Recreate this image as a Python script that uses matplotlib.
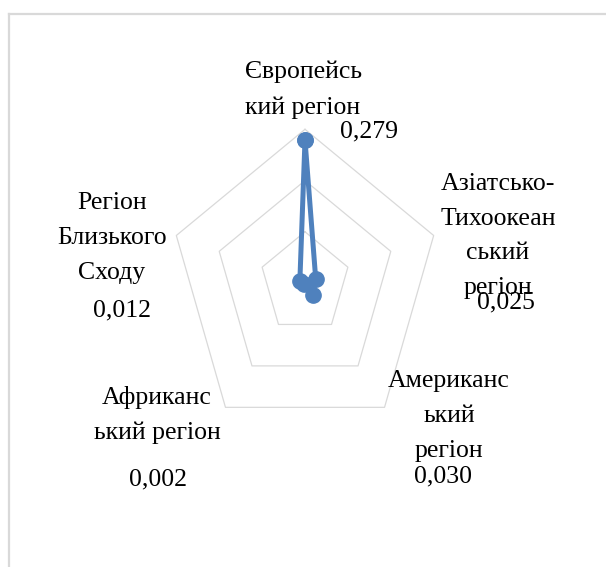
import numpy as np
import matplotlib
matplotlib.use("Agg")
import matplotlib.pyplot as plt

# ===============================
# Data
# ===============================
regions = ["Європейсь\nкий регіон",
           "Азіатсько-\nТихоокеан\nський\nрегіон",
           "Американс\nький\nрегіон",
           "Африканс\nький регіон",
           "Регіон\nБлизького\nСходу"]
values = [0.279, 0.025, 0.030, 0.002, 0.012]
ring_levels = [0.1, 0.2, 0.3]

# ===============================
# Layout (pixels of the 606x567 picture, from top-left)
# ===============================
W, H = 606, 567
cx, cy = 305, 283          # centre of the radar
rx, ry = 135.3, 153.7      # pixels for 0.3 horizontally / vertically (chart is stretched)
rmax = 0.3

blue = "#4f81bd"
grid = "#d9d9d9"
font = "Liberation Serif"

fig = plt.figure(figsize=(W / 100, H / 100), dpi=100)
ax = fig.add_axes([0, 0, 1, 1])
ax.set_xlim(-cx / rx * rmax, (W - cx) / rx * rmax)
ax.set_ylim(-(H - cy) / ry * rmax, cy / ry * rmax)
ax.axis("off")

n = len(values)
theta = np.pi / 2 - 2 * np.pi * np.arange(n) / n
t = np.append(theta, theta[0])

# pentagon grid rings
for lev in ring_levels:
    ax.plot(lev * np.cos(t), lev * np.sin(t), color=grid, lw=0.9, zorder=1)

# data series
v = np.array(values + values[:1])
ax.plot(v * np.cos(t), v * np.sin(t), color=blue, lw=3.6, marker="o",
        markersize=11, solid_joinstyle="round", zorder=3)

# ===============================
# Category and value labels
# ===============================
def px(x, y):
    return x / W, 1 - y / H

cat_pos = [(303, 90), (498, 236), (449, 416), (157, 415), (112, 238)]
val_pos = [(369, 131), (506, 302), (443, 476), (158, 479), (122, 310)]

for name, (x, y) in zip(regions, cat_pos):
    fig.text(*px(x, y), name, ha="center", va="center", family=font,
             fontsize=18.5, linespacing=1.76, color="black")

for val, (x, y) in zip(values, val_pos):
    fig.text(*px(x, y), f"{val:.3f}".replace(".", ","), ha="center", va="center",
             family=font, fontsize=18.5, color="black")

# chart area border (only left and top edges visible)
fig.add_artist(plt.Line2D([8.5 / W, 8.5 / W], [0, 1 - 13.5 / H],
                          transform=fig.transFigure, color=grid, lw=1.6))
fig.add_artist(plt.Line2D([8.5 / W, 1], [1 - 13.5 / H, 1 - 13.5 / H],
                          transform=fig.transFigure, color=grid, lw=1.6))

fig.savefig("out.png", dpi=100, facecolor="white")
